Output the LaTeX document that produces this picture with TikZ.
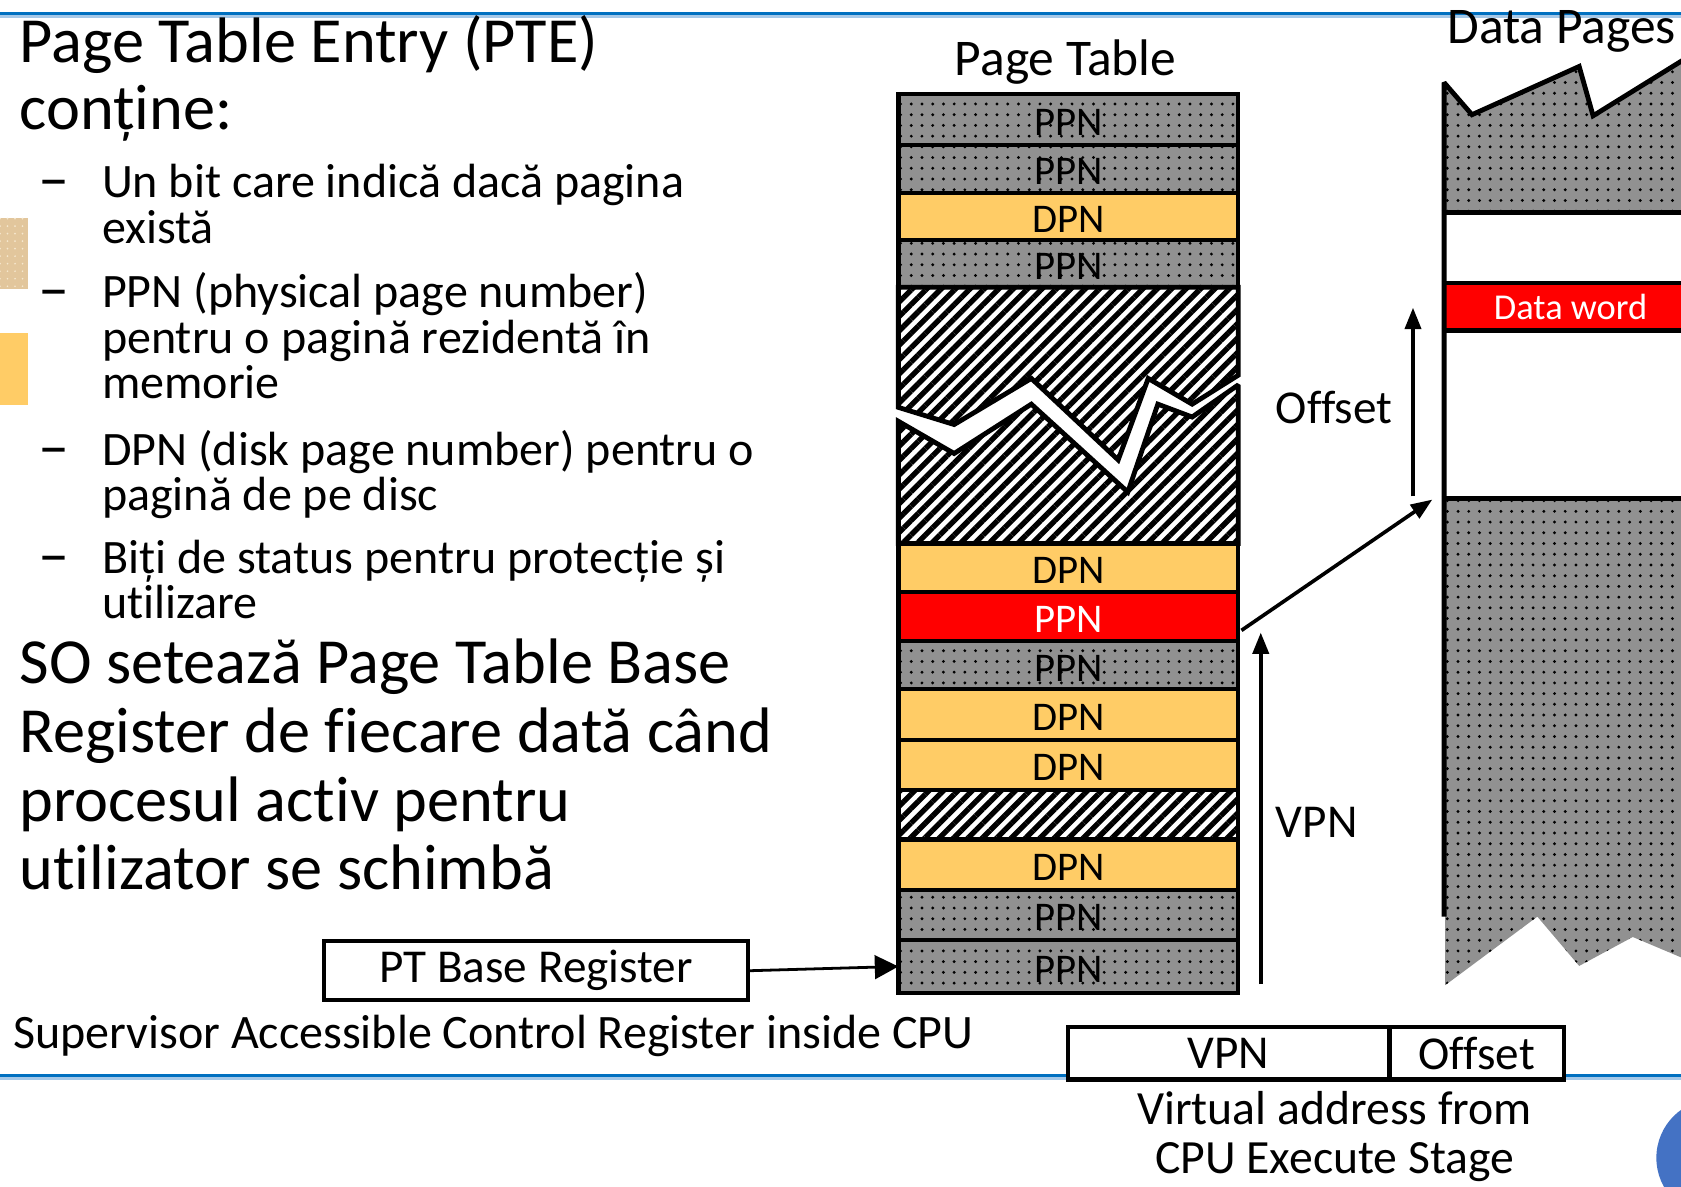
\documentclass[tikz,border=0pt]{standalone}
\usepackage{fontspec}
\setmainfont{Carlito}[Ligatures=NoCommon]
\usetikzlibrary{arrows.meta,patterns.meta}

\definecolor{dpnorange}{RGB}{255,204,102}
\definecolor{ptgray}{RGB}{145,145,145}
\definecolor{hired}{RGB}{255,0,0}
\definecolor{ruleblue}{RGB}{0,112,192}
\definecolor{ruleshade}{RGB}{165,200,232}
\definecolor{tanpatch}{RGB}{226,198,156}
\definecolor{tandot}{RGB}{246,232,206}
\definecolor{discblue}{RGB}{68,114,196}

\tikzset{
  bigtext/.style={font=\fontsize{60}{70}\selectfont, inner sep=0pt, anchor=base west},
  bodytext/.style={font=\fontsize{44.8}{53}\selectfont, inner sep=0pt, anchor=base west},
  dashtext/.style={font=\fontsize{58}{60}\selectfont, inner sep=0pt, anchor=base west},
  captext/.style={font=\fontsize{44.5}{53}\selectfont, inner sep=0pt, anchor=base},
  headtext/.style={font=\fontsize{48}{56}\selectfont, inner sep=0pt},
  grayfill/.style={preaction={fill=ptgray},
    preaction={pattern={Dots[distance=10pt,radius=1.5pt]}, pattern color=black}},
  hatchfill/.style={preaction={fill=white},
    preaction={pattern={Lines[angle=45,distance=9.5pt,line width=5pt]}, pattern color=black}},
  rowbase/.style={draw=black, line width=4pt, minimum width=317pt, inner sep=0pt,
    outer sep=0pt, text height=29.5pt, text depth=0pt, font=\fontsize{38}{44}\selectfont},
  ppnrow/.style={rowbase, grayfill},
  dpnrow/.style={rowbase, fill=dpnorange},
  redrow/.style={rowbase, fill=hired, text=white},
  hatchrow/.style={rowbase, hatchfill},
  thickline/.style={line width=4.5pt, line join=miter, miter limit=2},
  regbox/.style={draw=black, line width=4pt, fill=white, inner sep=0pt, outer sep=0pt,
    font=\fontsize{44}{52}\selectfont},
  arrowline/.style={line width=3.6pt, -{Triangle[length=20pt,width=15pt]}},
}

\begin{document}
\begin{tikzpicture}[x=1pt,y=-1pt]
\useasboundingbox (0,0) rectangle (1568,1107);
\clip (0,0) rectangle (1568,1107);
\fill[white] (0,0) rectangle (1568,1107);

% slide rules
\draw[ruleshade, line width=3pt] (0,15.5) -- (1568,15.5);
\draw[ruleblue, line width=2.6pt] (0,12.5) -- (1568,12.5);
\draw[ruleshade, line width=3pt] (0,1006) -- (1568,1006);
\draw[ruleblue, line width=2.6pt] (0,1003) -- (1568,1003);

% small colour patches at the left margin
\path[fill=tanpatch, postaction={pattern={Dots[distance=7pt,radius=0.9pt]}, pattern color=tandot}]
  (0,203) rectangle (26,270);
\fill[dpnorange] (0,311) rectangle (26,378);

% left-hand text
\node[bigtext] (t1) at (18,58) {Page Table Entry (PTE)};
\node[bigtext] (t2) at (18,121) {conține:};

\node[dashtext] (d1) at (36,186) {–};
\node[bodytext] (b1a) at (95,184) {Un bit care indică dacă pagina};
\node[bodytext] (b1b) at (95,227) {există};
\node[dashtext] (d2) at (36,289) {–};
\node[bodytext] (b2a) at (95,287) {PPN (physical page number)};
\node[bodytext] (b2b) at (95,330) {pentru o pagină rezidentă în};
\node[bodytext] (b2c) at (95,372) {memorie};
\node[dashtext] (d3) at (36,436) {–};
\node[bodytext] (b3a) at (95,434) {DPN (disk page number) pentru o};
\node[bodytext] (b3b) at (95,476) {pagină de pe disc};
\node[dashtext] (d4) at (36,537) {–};
\node[bodytext] (b4a) at (95,535) {Biți de status pentru protecție și};
\node[bodytext] (b4b) at (95,577) {utilizare};

\node[bigtext] (s1) at (18,638) {SO setează Page Table Base};
\node[bigtext] (s2) at (18,702) {Register de fiecare dată când};
\node[bigtext] (s3) at (18,766) {procesul activ pentru};
\node[bigtext] (s4) at (18,830) {utilizator se schimbă};

% page table
\node[headtext, anchor=base] (pttitle) at (994,70) {Page Table};

\node[ppnrow, minimum height=47pt] (r1) at (996.5,111.5) {PPN};
\node[ppnrow, minimum height=45pt] (r2) at (996.5,157.5) {PPN};
\node[dpnrow, minimum height=44pt] (r3) at (996.5,202) {DPN};
\node[ppnrow, minimum height=44pt] (r4) at (996.5,246) {PPN};

% unused region with a break
\path[hatchfill, draw=black, thickline]
  (838,268) -- (1155,268) -- (1155,350) -- (1112,377) -- (1071,353) -- (1043,429)
  -- (962,353) -- (890,396) -- (838,380) -- cycle;
\path[hatchfill, draw=black, thickline]
  (838,393) -- (890,423) -- (962,377) -- (1052,459) -- (1080,377) -- (1112,389)
  -- (1155,359) -- (1155,507) -- (838,507) -- cycle;

\node[dpnrow, minimum height=45pt] (r6) at (996.5,529.5) {DPN};
\node[redrow, minimum height=46pt] (r7) at (996.5,575) {PPN};
\node[ppnrow, minimum height=45pt] (r8) at (996.5,620.5) {PPN};
\node[dpnrow, minimum height=47pt] (r9) at (996.5,666.5) {DPN};
\node[dpnrow, minimum height=47pt] (r10) at (996.5,713.5) {DPN};
\node[hatchrow, minimum height=46pt] (r11) at (996.5,760) {};
\node[dpnrow, minimum height=47pt] (r12) at (996.5,806.5) {DPN};
\node[ppnrow, minimum height=47pt] (r13) at (996.5,853.5) {PPN};
\node[ppnrow, minimum height=49pt] (r14) at (996.5,901.5) {PPN};

% page table base register
\node[regbox, minimum width=396pt, minimum height=55pt] (ptbr) at (500,905.5) {PT Base Register};
\node[bodytext] (sup) at (12,978) {Supervisor Accessible Control Register inside CPU};
\draw[line width=2.6pt, -{Triangle[length=22pt,width=22pt]}] (ptbr.east) -- (r14.west);

% data pages
\node[headtext, anchor=base west] (dptitle) at (1350,41) {Data Pages};
\path[grayfill] (1347,198) -- (1347,77) -- (1373,107) -- (1473,62) -- (1486,108)
  -- (1620,25) -- (1620,198) -- cycle;
\path[grayfill] (1347,465) -- (1620,465) -- (1620,915) -- (1568,893) -- (1523,874)
  -- (1473,901) -- (1434,855) -- (1348,919) -- cycle;
\fill[hired] (1347,264) rectangle (1620,308);
\node[font=\fontsize{34}{40}\selectfont, text=white, inner sep=0pt] (dword) at (1465,286) {Data word};
\draw[thickline] (1347,855) -- (1347,77) -- (1373,107) -- (1473,62) -- (1486,108) -- (1620,25);
\foreach \yy in {198,264,308,465}
  \draw[line width=4.5pt] (1345,\yy) -- (1620,\yy);
\coordinate (dpcorner) at (1336,466);

% address translation paths
\coordinate (vpnfoot) at (1176,918);
\coordinate (vpntip) at (1176,590);
\draw[arrowline] (vpnfoot) -- (vpntip);
\node[bodytext, font=\fontsize{44}{52}\selectfont] (vpnlbl) at (1190,781) {VPN};

\coordinate (ppnout) at (1158,588);
\draw[arrowline, line width=3.4pt] (ppnout) -- (dpcorner);

\coordinate (offfoot) at (1318,463);
\coordinate (offtip) at (1318,287);
\draw[arrowline, line width=3.4pt] (offfoot) -- (offtip);
\node[bodytext, font=\fontsize{44}{52}\selectfont] (offlbl) at (1190,395) {Offset};

% virtual address
\node[regbox, minimum width=300pt, minimum height=49pt] (vavpn) at (1146,982.5) {VPN};
\node[regbox, minimum width=163pt, minimum height=49pt] (vaoff) at (1377.5,982.5) {Offset};
\node[captext] (va1) at (1245,1049) {Virtual address from};
\node[captext] (va2) at (1245,1095) {CPU Execute Stage};

% slide number disc
\fill[discblue] (1600,1080) circle[radius=55pt];
\end{tikzpicture}
\end{document}
